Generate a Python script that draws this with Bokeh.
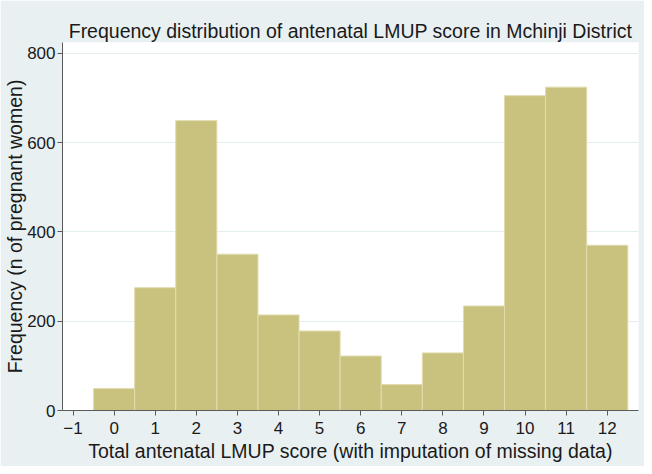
from bokeh.plotting import figure
from bokeh.models import Range1d, FixedTicker
from bokeh.embed import file_html
from bokeh.resources import INLINE

# Data
scores = [0, 1, 2, 3, 4, 5, 6, 7, 8, 9, 10, 11, 12]
counts = [49, 275, 649, 350, 214, 178, 122, 58, 129, 234, 705, 724, 370]
x_ticks = [-1, 0, 1, 2, 3, 4, 5, 6, 7, 8, 9, 10, 11, 12]
y_ticks = [0, 200, 400, 600, 800]

title = "Frequency distribution of antenatal LMUP score in Mchinji District"
x_label = "Total antenatal LMUP score (with imputation of missing data)"
y_label = "Frequency (n of pregnant women)"

FONT = "Liberation Sans"
BG = "#e9f0f2"

p = figure(width=644, height=466, output_backend="svg", toolbar_location=None,
           x_range=Range1d(-1.256, 12.76), y_range=Range1d(0, 824),
           min_border_left=62, min_border_right=6, min_border_top=42, min_border_bottom=56,
           title=title)

p.background_fill_color = "white"
p.border_fill_color = BG
p.outline_line_color = None

p.title.text_font = FONT
p.title.text_font_size = "19.5px"
p.title.text_font_style = "normal"
p.title.text_color = "#1a1a1a"
p.title.align = "center"
p.title.standoff = 1

p.vbar(x=scores, top=counts, width=1.0, bottom=0,
       fill_color="#c9c27e", line_color="#e0dcae", line_width=1)

for ax in (p.xaxis[0], p.yaxis[0]):
    ax.axis_line_color = "#5a5a5a"
    ax.major_tick_line_color = "#5a5a5a"
    ax.major_tick_out = 5
    ax.major_tick_in = 0
    ax.minor_tick_line_color = None
    ax.major_label_text_font = FONT
    ax.major_label_text_font_size = "17px"
    ax.major_label_text_color = "#1a1a1a"
    ax.axis_label_text_font = FONT
    ax.axis_label_text_font_size = "19.5px"
    ax.axis_label_text_font_style = "normal"
    ax.axis_label_text_color = "#1a1a1a"

p.xaxis[0].ticker = FixedTicker(ticks=x_ticks)
p.yaxis[0].ticker = FixedTicker(ticks=y_ticks)
p.xaxis[0].axis_label = x_label
p.yaxis[0].axis_label = y_label
p.xaxis[0].major_label_standoff = 6
p.xaxis[0].axis_label_standoff = 3
p.yaxis[0].major_label_standoff = 2
p.yaxis[0].axis_label_standoff = -2
p.xaxis[0].major_label_overrides = {-1: "\u22121"}

p.xgrid.grid_line_color = None
p.ygrid.grid_line_color = "#e4edf0"
p.ygrid.ticker = FixedTicker(ticks=y_ticks)

open("out.html", "w").write(file_html(p, INLINE))
